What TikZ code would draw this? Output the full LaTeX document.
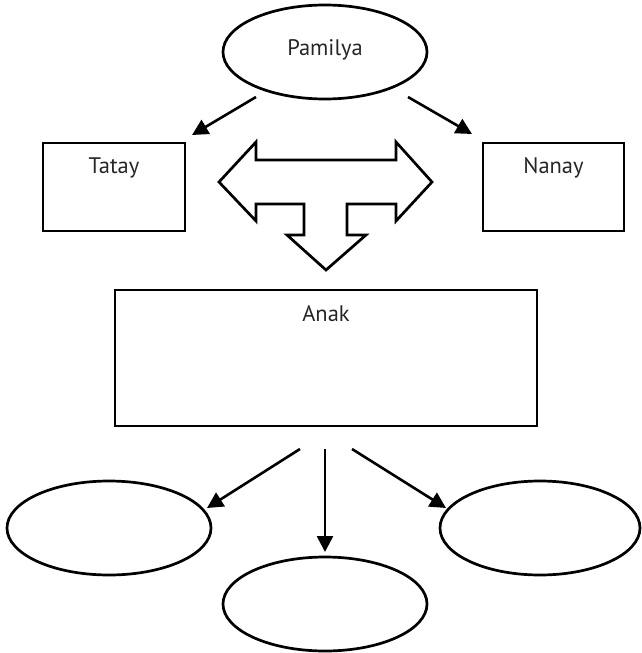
\documentclass[tikz,border=0pt]{standalone}
\usepackage{fontspec}
\setmainfont{PT Sans}
\usetikzlibrary{shapes.geometric,arrows.meta}
\tikzset{
  oval/.style={draw, ellipse, line width=2.7pt, minimum width=204pt, minimum height=94pt, inner sep=0pt},
  boxn/.style={draw, rectangle, line width=2.7pt, inner sep=0pt},
  lbl/.style={font=\fontsize{22.5}{26}\selectfont, text=black!85, inner sep=0pt},
  conn/.style={line width=2.6pt, -{Triangle[length=16pt,width=16pt]}},
  bigarrow/.style={draw, line width=2.7pt, line join=miter}
}
\begin{document}
\begin{tikzpicture}[x=1pt,y=-1pt]
\useasboundingbox (0,0) rectangle (641,653);
% nodes
\node[oval] (pam) at (325,52) {};
\node[lbl] (pamt) at (325,50) {Pamilya};
\node[boxn, minimum width=142pt, minimum height=88pt] (tat) at (114,187) {};
\node[lbl] (tatt) at (114,168) {Tatay};
\node[boxn, minimum width=141pt, minimum height=88pt] (nan) at (553.5,187) {};
\node[lbl] (nant) at (553.5,168) {Nanay};
\node[boxn, minimum width=422pt, minimum height=136pt] (anak) at (326,358) {};
\node[lbl] (anakt) at (326,314) {Anak};
\node[oval] (c1) at (109,528) {};
\node[oval] (c2) at (325,604) {};
\node[oval, minimum width=200pt] (c3) at (540,528) {};
% connector end points
\coordinate (p1) at (256,97);
\coordinate (p1t) at (192,135);
\coordinate (p2) at (408,97);
\coordinate (p2t) at (472,134);
\coordinate (a1) at (300,449);
\coordinate (a1t) at (207,508);
\coordinate (a2) at (325,449);
\coordinate (a2t) at (325,552);
\coordinate (a3) at (352,449);
\coordinate (a3t) at (446,508);
\draw[conn] (p1) -- (p1t);
\draw[conn] (p2) -- (p2t);
\draw[conn] (a1) -- (a1t);
\draw[conn] (a2) -- (a2t);
\draw[conn] (a3) -- (a3t);
% T-shaped block arrow
\draw[bigarrow] (219,182) -- (256,142) -- (256,160) -- (396,160) -- (396,142)
  -- (432,182) -- (396,221) -- (396,204) -- (347,204) -- (347,235) -- (366,235)
  -- (326,270) -- (287,235) -- (304,235) -- (304,204) -- (256,204) -- (256,221) -- cycle;
\end{tikzpicture}
\end{document}
